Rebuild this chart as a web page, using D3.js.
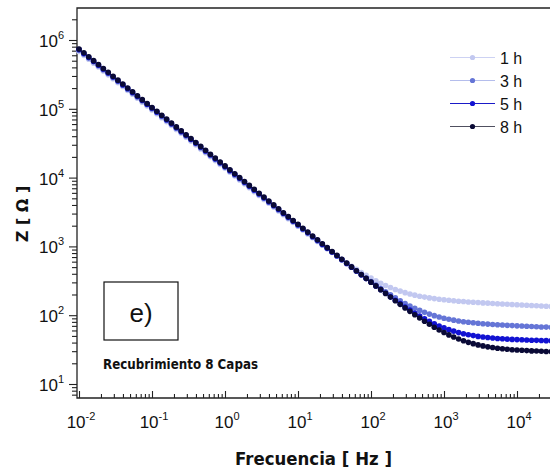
<!DOCTYPE html>
<html lang="en">
<head>
  <meta charset="UTF-8">
  <script src="https://d3js.org/d3.v7.min.js"></script>
  <style>
    body {
      margin: 0;
      background: #fff;
      overflow: hidden;
    }

    svg {
      display: block;
    }

    text {
      font-family: "Liberation Sans", Arial, sans-serif;
      fill: #111;
    }

    .title {
      font-family: "DejaVu Sans", Verdana, sans-serif;
      font-weight: bold;
    }
  </style>
</head>
<body>

<svg width="550" height="474"></svg>

<script>
  // frequencies (Hz), 15 points per decade
  const freq = [
    0.01, 0.01166, 0.01359, 0.01585, 0.01848, 0.02154, 0.02512, 0.02929, 0.03415, 0.03981, 0.04642, 0.05412, 0.0631, 0.07356, 0.08577,
    0.1, 0.1166, 0.1359, 0.1585, 0.1848, 0.2154, 0.2512, 0.2929, 0.3415, 0.3981, 0.4642, 0.5412, 0.631, 0.7356, 0.8577,
    1, 1.166, 1.359, 1.585, 1.848, 2.154, 2.512, 2.929, 3.415, 3.981, 4.642, 5.412, 6.31, 7.356, 8.577,
    10, 11.66, 13.59, 15.85, 18.48, 21.54, 25.12, 29.29, 34.15, 39.81, 46.42, 54.12, 63.1, 73.56, 85.77,
    100, 116.6, 135.9, 158.5, 184.8, 215.4, 251.2, 292.9, 341.5, 398.1, 464.2, 541.2, 631, 735.6, 857.7,
    1000, 1166, 1359, 1585, 1848, 2154, 2512, 2929, 3415, 3981, 4642, 5412, 6310, 7356, 8577,
    10000, 11660, 13590, 15850, 18480, 21540, 25120, 29290, 34150
  ];

  // |Z| (ohm) for each immersion time
  const z1h = [
    682000, 598600, 525300, 461100, 404700, 355200, 311700, 273600, 240100, 210800, 185000, 162400, 142500, 125000, 109800,
    96320, 84550, 74210, 65130, 57160, 50170, 44030, 38650, 33920, 29770, 26130, 22940, 20130, 17660, 15500,
    13640, 11970, 10510, 9232, 8107, 7119, 6252, 5492, 4824, 4239, 3724, 3274, 2878, 2531, 2227,
    1960, 1726, 1520, 1341, 1183, 1045, 924.3, 818.8, 727.2, 647.0, 577.1, 515.9, 463.7, 418.3, 379.1,
    345.9, 316.7, 291.6, 270.3, 252.2, 236.8, 223.8, 212.8, 203.5, 195.7, 189.0, 183.3, 178.4, 174.2, 170.6,
    167.4, 164.6, 162.1, 159.9, 157.8, 155.9, 154.2, 152.6, 151.0, 149.6, 148.2, 146.8, 145.5, 144.3, 143.1,
    141.8, 140.7, 139.5, 138.4, 137.2, 136.1, 135.0, 133.9, 132.8
  ];
  const z3h = [
    711600, 624600, 548200, 481200, 422300, 370700, 325200, 285500, 250600, 219900, 193100, 169400, 148700, 130500, 114500,
    100500, 88220, 77430, 67960, 59640, 52350, 45950, 40330, 35400, 31070, 27260, 23930, 21000, 18430, 16180,
    14200, 12460, 10930, 9600, 8426, 7395, 6491, 5697, 5000, 4388, 3866, 3395, 2981, 2619, 2300,
    2021, 1777, 1561, 1372, 1207, 1061, 934.2, 822.4, 725.0, 639.2, 564.0, 497.6, 440.4, 389.7, 345.7,
    307.6, 274.1, 244.8, 219.6, 197.7, 178.7, 162.3, 148.3, 136.3, 126.1, 117.4, 110.0, 103.8, 98.5, 94.1,
    90.4, 87.3, 84.7, 82.5, 80.5, 78.9, 77.5, 76.2, 75.2, 74.2, 73.3, 72.6, 71.9, 71.2, 70.6,
    70.0, 69.5, 69.0, 68.5, 68.0, 67.5, 67.1, 66.6, 66.2
  ];
  const z5h = [
    726500, 637600, 559600, 491200, 431100, 378400, 332000, 291500, 255800, 224500, 197100, 173000, 151800, 133200, 116900,
    102600, 90060, 79050, 69370, 60890, 53440, 46900, 41170, 36130, 31710, 27830, 24430, 21440, 18820, 16510,
    14490, 12720, 11160, 9800, 8601, 7549, 6626, 5815, 5104, 4480, 3939, 3459, 3036, 2666, 2340,
    2056, 1806, 1586, 1394, 1224, 1075, 945.1, 830.5, 730.8, 642.8, 565.6, 497.3, 438.3, 386.1, 340.5,
    300.7, 265.8, 235.2, 208.5, 185.2, 164.8, 147.1, 131.7, 118.5, 107.0, 97.0, 88.4, 81.3, 75.0, 69.8,
    65.4, 61.7, 58.6, 55.9, 53.8, 52.0, 50.5, 49.2, 48.2, 47.3, 46.6, 45.9, 45.4, 44.9, 44.5,
    44.2, 43.9, 43.6, 43.3, 43.1, 42.9, 42.7, 42.5, 42.3
  ];
  const z8h = [
    741300, 650600, 571000, 501200, 439900, 386100, 338800, 297400, 261000, 229100, 201100, 176500, 154900, 135900, 119300,
    104700, 91900, 80660, 70790, 62130, 54530, 47860, 42010, 36870, 32360, 28400, 24930, 21880, 19200, 16850,
    14790, 12980, 11390, 10000, 8777, 7703, 6761, 5934, 5208, 4571, 4011, 3521, 3090, 2712, 2380,
    2095, 1840, 1615, 1419, 1246, 1094, 961, 844, 742, 652, 573.5, 503.6, 443.2, 389.9, 343.1,
    302.4, 266.6, 235.0, 207.5, 183.4, 162.2, 143.8, 127.7, 113.8, 101.6, 90.9, 81.6, 73.8, 66.9, 61.0,
    56.0, 51.7, 48.1, 45.1, 42.5, 40.3, 38.6, 37.0, 35.8, 34.7, 33.9, 33.1, 32.5, 32.0, 31.5,
    31.2, 30.9, 30.6, 30.3, 30.1, 29.9, 29.7, 29.6, 29.4
  ];

  const labels = ['1 h', '3 h', '5 h', '8 h'];
  const dotColors = ['#c2c8f0', '#6575d6', '#1212d2', '#0a0a36'];
  const lineColors = ['#cdd2f3', '#b4bdec', '#1a1ac8', '#505060'];

  const xMajor = [0.01, 0.1, 1, 10, 100, 1000, 10000];
  const yMajor = [10, 100, 1000, 10000, 100000, 1000000];

  const series = [z1h, z3h, z5h, z8h].map((vals, i) => ({
    label: labels[i],
    dot: dotColors[i],
    line: lineColors[i],
    points: freq.map((f, j) => ({ f: f, z: vals[j] })).filter(p => p.z != null)
  }));

  const svg = d3.select('svg');
  const W = 550;
  const pLeft = 77, pTop = 8, pBottom = 398;

  const x = d3.scaleLog().domain([0.01, 1e4]).range([79, 517]);
  const y = d3.scaleLog().domain([10, 1e6]).range([384, 40]);

  // minor tick values between the visible limits
  function minors(lo, hi) {
    const out = [];
    for (let d = -3; d <= 7; d++) {
      for (let m = 2; m <= 9; m++) {
        const v = m * Math.pow(10, d);
        if (v > lo && v < hi) out.push(v);
      }
    }
    return out;
  }
  const xMinor = minors(x.invert(pLeft), x.invert(W));
  const yMinor = minors(y.invert(pBottom), y.invert(pTop));

  // y axis ticks (outward)
  const yAxisG = svg.append('g').attr('transform', `translate(${pLeft},0)`);
  yAxisG.append('g')
    .call(d3.axisLeft(y).tickValues(yMajor).tickSize(8).tickFormat(''))
    .call(g => g.select('.domain').remove());
  yAxisG.append('g')
    .call(d3.axisLeft(y).tickValues(yMinor).tickSize(5).tickFormat(''))
    .call(g => g.select('.domain').remove());

  // x axis ticks (inward)
  const xAxisG = svg.append('g').attr('transform', `translate(0,${pBottom})`);
  xAxisG.append('g')
    .call(d3.axisBottom(x).tickValues(xMajor).tickSize(-7).tickFormat(''))
    .call(g => g.select('.domain').remove());
  xAxisG.append('g')
    .call(d3.axisBottom(x).tickValues(xMinor).tickSize(-4).tickFormat(''))
    .call(g => g.select('.domain').remove());
  svg.selectAll('.tick line').attr('stroke', '#222').attr('stroke-width', 1.1);

  // frame
  svg.append('path')
    .attr('d', `M${W},${pTop}H${pLeft}V${pBottom}H${W}`)
    .attr('fill', 'none')
    .attr('stroke', '#222')
    .attr('stroke-width', 1.3);

  // tick labels 10^n
  function powText(sel, v) {
    const e = Math.round(Math.log10(v));
    sel.append('tspan').text('10');
    sel.append('tspan').attr('dy', -8).attr('font-size', 11).text(e);
  }

  yMajor.forEach(v => {
    svg.append('text')
      .attr('x', 64)
      .attr('y', y(v) + 7)
      .attr('text-anchor', 'end')
      .attr('font-size', 17)
      .call(powText, v);
  });

  xMajor.forEach(v => {
    svg.append('text')
      .attr('x', x(v) + 2)
      .attr('y', 428)
      .attr('text-anchor', 'middle')
      .attr('font-size', 17)
      .call(powText, v);
  });

  // data
  const line = d3.line().x(d => x(d.f)).y(d => y(d.z));
  series.forEach(s => {
    svg.append('path')
      .datum(s.points)
      .attr('d', line)
      .attr('fill', 'none')
      .attr('stroke', s.dot)
      .attr('stroke-width', 1);
    svg.append('g')
      .selectAll('circle')
      .data(s.points)
      .enter().append('circle')
      .attr('cx', d => x(d.f))
      .attr('cy', d => y(d.z))
      .attr('r', 2.8)
      .attr('fill', s.dot);
  });

  // legend
  const legendY = [57.5, 80.5, 103.5, 126.5];
  series.forEach((s, i) => {
    const ly = legendY[i];
    svg.append('line')
      .attr('x1', 450).attr('x2', 495)
      .attr('y1', ly).attr('y2', ly)
      .attr('stroke', s.line)
      .attr('stroke-width', 1.2);
    svg.append('circle')
      .attr('cx', 472.5).attr('cy', ly)
      .attr('r', 2.6)
      .attr('fill', s.dot);
    svg.append('text')
      .attr('x', 500)
      .attr('y', ly + 6)
      .attr('font-size', 16)
      .text(s.label);
  });

  // panel tag
  svg.append('rect')
    .attr('x', 104).attr('y', 282)
    .attr('width', 74).attr('height', 58)
    .attr('fill', 'none')
    .attr('stroke', '#111')
    .attr('stroke-width', 1.2);
  svg.append('text')
    .attr('x', 141).attr('y', 322)
    .attr('text-anchor', 'middle')
    .attr('font-size', 26)
    .text('e)');

  svg.append('text')
    .attr('class', 'title')
    .attr('x', 103).attr('y', 369)
    .attr('font-size', 14)
    .attr('textLength', 155)
    .attr('lengthAdjust', 'spacingAndGlyphs')
    .text('Recubrimiento 8 Capas');

  // axis titles
  svg.append('text')
    .attr('class', 'title')
    .attr('x', 235).attr('y', 465)
    .attr('font-size', 17)
    .attr('textLength', 157)
    .attr('lengthAdjust', 'spacingAndGlyphs')
    .text('Frecuencia [  Hz ]');

  svg.append('text')
    .attr('class', 'title')
    .attr('transform', 'translate(28,214) rotate(-90)')
    .attr('text-anchor', 'middle')
    .attr('font-size', 16)
    .text('Z [ Ω ]');
</script>

</body>
</html>
